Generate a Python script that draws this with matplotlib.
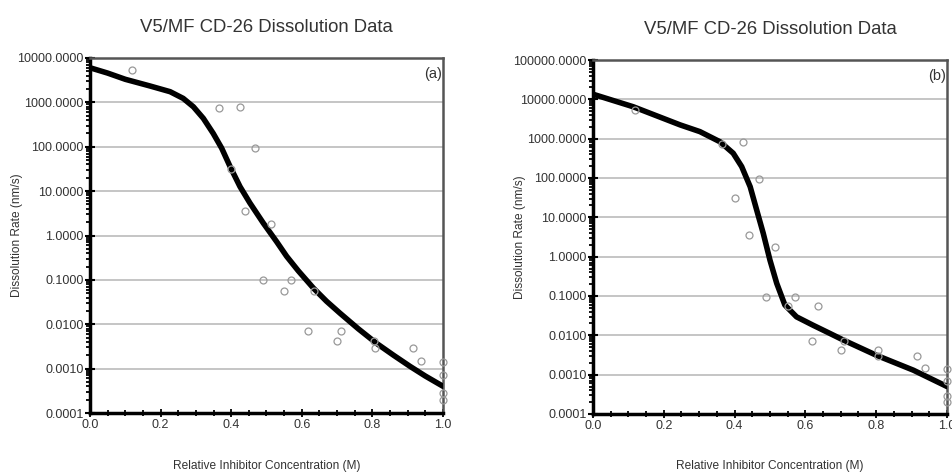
import numpy as np
import matplotlib
matplotlib.use('Agg')
import matplotlib.pyplot as plt
from matplotlib.ticker import LogLocator, FixedLocator, MultipleLocator, FuncFormatter, NullFormatter

plt.rcParams['font.family'] = ['Liberation Sans', 'DejaVu Sans']

# measured points (same in both panels)
conc = [0.12, 0.365, 0.425, 0.468, 0.40, 0.44, 0.513, 0.49, 0.55, 0.57, 0.635,
        0.618, 0.71, 0.70, 0.805, 0.806, 0.915, 0.937, 1.0, 1.0, 1.0, 1.0]
rate = [5300, 750, 800, 93, 31, 3.6, 1.8, 0.097, 0.055, 0.097, 0.056,
        0.0072, 0.0072, 0.0043, 0.0042, 0.0029, 0.0029, 0.0015, 0.0014, 0.0007, 0.00028, 0.0002]

# fitted curve, panel (a)
fit_a_x = [0.0, 0.05, 0.10, 0.17, 0.227, 0.264, 0.293, 0.321, 0.349, 0.373, 0.397, 0.425,
           0.453, 0.491, 0.529, 0.557, 0.59, 0.633, 0.67, 0.708, 0.76, 0.812, 0.86, 0.907,
           0.95, 1.0]
fit_a_y = [6030, 4570, 3310, 2340, 1740, 1230, 794, 437, 200, 93, 35.5, 12.6,
           5.4, 1.9, 0.72, 0.34, 0.16, 0.065, 0.033, 0.0178, 0.0079, 0.0037, 0.002, 0.00112,
           0.00068, 0.0004]

# fitted curve, panel (b)
fit_b_x = [0.0, 0.114, 0.246, 0.302, 0.359, 0.396, 0.420, 0.444, 0.462, 0.481, 0.50,
           0.519, 0.542, 0.575, 0.622, 0.669, 0.707, 0.801, 0.905, 1.0]
fit_b_y = [13490, 6460, 2240, 1510, 832, 427, 195, 60, 15.8, 3.9, 0.81,
           0.21, 0.059, 0.0295, 0.018, 0.0112, 0.0076, 0.0031, 0.0013, 0.0005]

title = 'V5/MF CD-26 Dissolution Data'
xlab = 'Relative Inhibitor Concentration (M)'
ylab = 'Dissolution Rate (nm/s)'
txtc = '#333333'

fig = plt.figure(figsize=(9.53, 4.76), dpi=100)


def panel(rect, fx, fy, ymax, tag, ylab_x):
    ax = fig.add_axes(rect)
    ax.set_yscale('log')
    ax.set_xlim(0, 1)
    ax.set_ylim(1e-4, ymax)
    decades = [10.0 ** k for k in range(-4, int(round(np.log10(ymax))) + 1)]
    ax.yaxis.set_major_locator(FixedLocator(decades))
    ax.yaxis.set_minor_locator(LogLocator(base=10, subs=np.arange(2, 10)))
    ax.yaxis.set_major_formatter(FuncFormatter(lambda v, p: '%.4f' % v))
    ax.yaxis.set_minor_formatter(NullFormatter())
    ax.xaxis.set_major_locator(MultipleLocator(0.2))
    ax.xaxis.set_minor_locator(MultipleLocator(0.05))
    ax.xaxis.set_major_formatter(FuncFormatter(lambda v, p: '%.1f' % v))
    ax.grid(axis='y', which='major', color='#bbbbbb', lw=1.2)
    ax.set_axisbelow(True)
    for s in ['left', 'bottom']:
        ax.spines[s].set_linewidth(2.5)
        ax.spines[s].set_color('black')
    for s in ['top', 'right']:
        ax.spines[s].set_linewidth(1.8)
        ax.spines[s].set_color('#555555')
    ax.tick_params(axis='y', which='major', direction='inout', length=7, width=1.5,
                   labelsize=9, labelcolor=txtc, pad=1)
    ax.tick_params(axis='y', which='minor', direction='out', length=3, width=1.3)
    ax.tick_params(axis='x', which='major', direction='inout', length=6, width=1.3,
                   labelsize=9, labelcolor=txtc, pad=1)
    ax.tick_params(axis='x', which='minor', direction='inout', length=4, width=1.3)
    ax.plot(fx, fy, color='black', lw=4, solid_capstyle='round', solid_joinstyle='round',
            zorder=3)
    ax.plot(conc, rate, 'o', mfc='none', mec='#999999', ms=5, mew=0.9, zorder=4, clip_on=False)
    ax.text(0.997, 0.975, tag, transform=ax.transAxes, ha='right', va='top',
            fontsize=10.5, color=txtc)
    ax.set_title(title, fontsize=13.3, color=txtc, pad=19)
    cx = rect[0] + rect[2] / 2
    fig.text(cx, 1 - 466 / 476, xlab, ha='center', va='center', fontsize=8.6, color=txtc)
    fig.text(ylab_x, rect[1] + rect[3] / 2, ylab, ha='center', va='center',
             rotation=90, fontsize=8.6, color=txtc)
    return ax


panel([90 / 953, 1 - 413 / 476, 353 / 953, 355 / 476], fit_a_x, fit_a_y, 1e4, '(a)', 17 / 953)
panel([593 / 953, 1 - 414 / 476, 354 / 953, 354 / 476], fit_b_x, fit_b_y, 1e5, '(b)', 520 / 953)

fig.savefig('out.png', dpi=100)
